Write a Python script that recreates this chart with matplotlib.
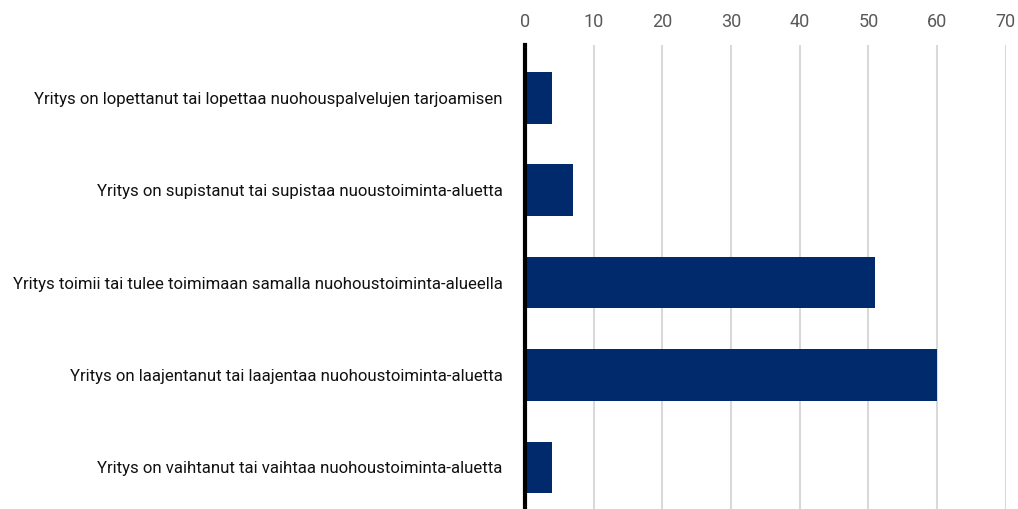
import matplotlib.pyplot as plt

categories = [
    "Yritys on lopettanut tai lopettaa nuohouspalvelujen tarjoamisen",
    "Yritys on supistanut tai supistaa nuoustoiminta-aluetta",
    "Yritys toimii tai tulee toimimaan samalla nuohoustoiminta-alueella",
    "Yritys on laajentanut tai laajentaa nuohoustoiminta-aluetta",
    "Yritys on vaihtanut tai vaihtaa nuohoustoiminta-aluetta",
]
values = [4, 7, 51, 60, 4]
xticks = [0, 10, 20, 30, 40, 50, 60, 70]

plt.rcParams["font.family"] = ["Roboto", "DejaVu Sans"]

fig = plt.figure(figsize=(10.18, 5.09), dpi=100)
ax = fig.add_axes([0.5157, 0.0, 0.988 - 0.5157, 0.9116])

ypos = list(range(len(categories)))
ax.barh(ypos, values, height=0.56, color="#002a6b", zorder=3)

ax.set_xlim(0, 70)
ax.set_ylim(4.45, -0.57)
ax.set_xticks(xticks)
ax.set_yticks(ypos)
ax.set_yticklabels(categories)

ax.xaxis.tick_top()
ax.tick_params(axis="x", length=0, pad=10, labelsize=13, labelcolor="#595959")
ax.tick_params(axis="y", length=0, pad=16, labelsize=12.1, labelcolor="#111111")

ax.grid(axis="x", color="#d9d9d9", linewidth=1.5, zorder=0)
for s in ["top", "right", "bottom"]:
    ax.spines[s].set_visible(False)
ax.spines["left"].set_linewidth(3)
ax.spines["left"].set_color("black")
ax.spines["left"].set_zorder(4)

fig.savefig("out.png", dpi=100)
